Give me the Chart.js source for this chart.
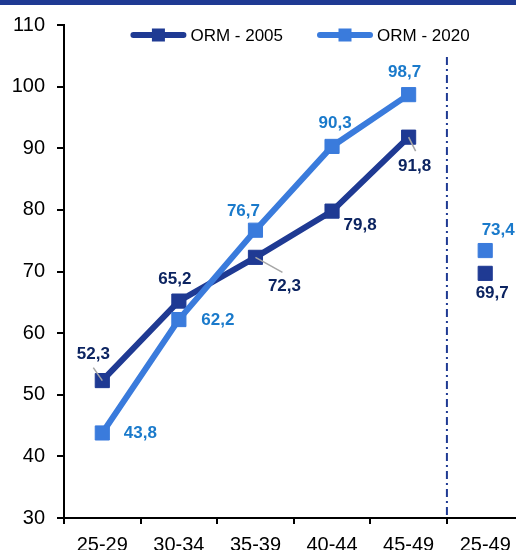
<!DOCTYPE html>
<html>
<head>
<meta charset="utf-8">
<script src="https://cdn.jsdelivr.net/npm/chart.js@4.4.1/dist/chart.umd.min.js"></script>
<style>
  html, body { margin: 0; padding: 0; overflow: hidden; background: #fff; }
  #topBar { position: absolute; left: 0; top: 0; width: 100%; height: 5px; background: #1f3a93; z-index: 2; }
  #wrap { position: absolute; left: 0; top: 0; width: 540px; height: 570px; }
</style>
</head>
<body>
<div id="topBar"></div>
<div id="wrap"><canvas id="chart"></canvas></div>
<script>
  // data
  const categories = ["25-29", "30-34", "35-39", "40-44", "45-49", "25-49"];
  const orm2005 = [52.3, 65.2, 72.3, 79.8, 91.8, 69.7];
  const orm2020 = [43.8, 62.2, 76.7, 90.3, 98.7, 73.4];
  const seriesNames = ["ORM - 2005", "ORM - 2020"];

  const darkBlue = "#1f3a93";
  const lightBlue = "#3a7bdc";
  const darkText = "#0c2461";
  const lightText = "#1a7acb";
  const fontName = "'Liberation Sans', Arial, sans-serif";

  // label placement, offsets from the point centre [dx, dy]
  const labelPos = [
    [[-9, -26], [-4, -22], [29, 29], [28, 14], [6, 29], [7, 20]],
    [[38, 0], [39, 1], [-12, -19], [3, -23], [-4, -22], [13, -20]]
  ];
  // small grey leader lines (end offset from the point)
  const leaders = [
    { 0: [-9, -13], 2: [27, 15], 4: [7, 14] },
    {}
  ];
  const labelColors = [darkText, lightText];

  // the summary point (last one) is not joined to the age groups
  const hideLast = ctx => ctx.p1DataIndex === categories.length - 1 ? "transparent" : undefined;

  const dividerPlugin = {
    id: "divider",
    beforeDatasetsDraw(chart) {
      const x = chart.scales.x;
      const px = (x.getPixelForValue(4) + x.getPixelForValue(5)) / 2;
      const ctx = chart.ctx;
      ctx.save();
      ctx.strokeStyle = darkBlue;
      ctx.lineWidth = 2;
      ctx.setLineDash([8, 4, 2, 4]);
      ctx.beginPath();
      ctx.moveTo(px, 57);
      ctx.lineTo(px, chart.chartArea.bottom);
      ctx.stroke();
      ctx.restore();
    }
  };

  const labelsPlugin = {
    id: "valueLabels",
    afterDatasetsDraw(chart) {
      const ctx = chart.ctx;
      ctx.save();
      chart.data.datasets.forEach((ds, di) => {
        const meta = chart.getDatasetMeta(di);
        meta.data.forEach((pt, i) => {
          const lead = leaders[di][i];
          if (lead) {
            ctx.strokeStyle = "#a6a6a6";
            ctx.lineWidth = 1.5;
            ctx.beginPath();
            ctx.moveTo(pt.x, pt.y);
            ctx.lineTo(pt.x + lead[0], pt.y + lead[1]);
            ctx.stroke();
          }
          const off = labelPos[di][i];
          ctx.fillStyle = labelColors[di];
          ctx.font = "bold 17px " + fontName;
          ctx.textAlign = "center";
          ctx.textBaseline = "middle";
          ctx.fillText(ds.data[i].toFixed(1).replace(".", ","), pt.x + off[0], pt.y + off[1]);
        });
      });
      ctx.restore();
    }
  };

  const legendPlugin = {
    id: "lineLegend",
    afterDraw(chart) {
      const ctx = chart.ctx;
      ctx.save();
      ctx.font = "17px " + fontName;
      const lineLen = 56, gap = 4, spacing = 34, cy = 35;
      const widths = chart.data.datasets.map(ds => lineLen + gap + ctx.measureText(ds.label).width);
      const total = widths.reduce((a, b) => a + b, 0) + spacing * (widths.length - 1);
      let x = 300 - total / 2;
      chart.data.datasets.forEach((ds, i) => {
        ctx.strokeStyle = ds.borderColor;
        ctx.lineWidth = 6;
        ctx.lineCap = "round";
        ctx.beginPath();
        ctx.moveTo(x + 3, cy);
        ctx.lineTo(x + lineLen - 3, cy);
        ctx.stroke();
        ctx.fillStyle = ds.borderColor;
        ctx.fillRect(x + lineLen / 2 - 6.5, cy - 6.5, 13, 13);
        ctx.fillStyle = "#000";
        ctx.textAlign = "left";
        ctx.textBaseline = "middle";
        ctx.fillText(ds.label, x + lineLen + gap, cy + 1);
        x += widths[i] + spacing;
      });
      ctx.restore();
    }
  };

  const ctx = document.getElementById("chart").getContext("2d");
  new Chart(ctx, {
    type: "line",
    data: {
      labels: categories,
      datasets: [
        {
          label: seriesNames[0],
          data: orm2005,
          order: 1,
          borderColor: darkBlue,
          backgroundColor: darkBlue,
          borderWidth: 6,
          pointStyle: "rect",
          pointRadius: 10,
          pointBorderWidth: 1,
          pointHoverRadius: 10,
          segment: { borderColor: hideLast }
        },
        {
          label: seriesNames[1],
          data: orm2020,
          order: 0,
          borderColor: lightBlue,
          backgroundColor: lightBlue,
          borderWidth: 6,
          pointStyle: "rect",
          pointRadius: 10,
          pointBorderWidth: 1,
          pointHoverRadius: 10,
          segment: { borderColor: hideLast }
        }
      ]
    },
    options: {
      responsive: true,
      maintainAspectRatio: false,
      animation: false,
      layout: { padding: { top: 25, right: 16.5, bottom: 0, left: 0 } },
      plugins: {
        legend: { display: false },
        tooltip: { enabled: false }
      },
      scales: {
        x: {
          offset: true,
          grid: { offset: true, drawOnChartArea: false, drawTicks: true, tickLength: 6, color: "#000", lineWidth: 2 },
          border: { display: true, color: "#000", width: 2 },
          ticks: { color: "#000", font: { family: fontName, size: 20 }, padding: 9, maxRotation: 0, autoSkip: false },
          afterFit(scale) { scale.height = 52; }
        },
        y: {
          min: 30,
          max: 110,
          ticks: { stepSize: 10, color: "#000", font: { family: fontName, size: 20 }, padding: 12 },
          grid: { drawOnChartArea: false, drawTicks: true, tickLength: 7, color: "#000", lineWidth: 2 },
          border: { display: true, color: "#000", width: 2 },
          afterFit(scale) { scale.width = 64; }
        }
      }
    },
    plugins: [dividerPlugin, labelsPlugin, legendPlugin]
  });
</script>
</body>
</html>
